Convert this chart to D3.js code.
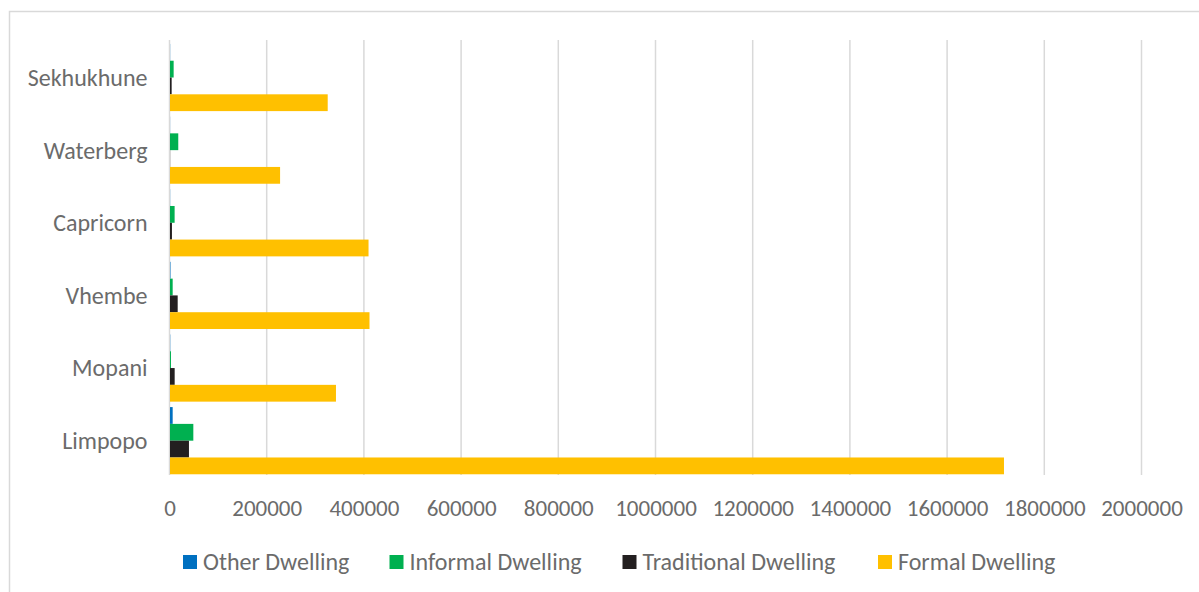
<!DOCTYPE html>
<html>
<head>
<meta charset="utf-8">
<script src="https://cdn.jsdelivr.net/npm/d3@7"></script>
<style>
  html, body { margin: 0; padding: 0; background: #fff; }
  svg { display: block; }
  text { font-family: Calibri, Carlito, "Liberation Sans", Arial, sans-serif; fill: #6b6b6b; }
</style>
</head>
<body>
<svg id="chart" width="1199" height="592"></svg>
<script>
// Districts, listed top to bottom as they appear on the chart
const categories = ["Sekhukhune", "Waterberg", "Capricorn", "Vhembe", "Mopani", "Limpopo"];

// Dwelling types, in legend order (also the top-to-bottom order inside each group)
const seriesNames = ["Other Dwelling", "Informal Dwelling", "Traditional Dwelling", "Formal Dwelling"];
const seriesColors = ["#0070C0", "#00B050", "#231F20", "#FFC000"];

// Household counts per district, one array per dwelling type (same order as categories)
const otherDwelling       = [300,   200,    300,    1000,   500,    5500];
const informalDwelling    = [7500,  17000,  9500,   5500,   2000,   48000];
const traditionalDwelling = [3400,  300,    4000,   15800,  9600,   39000];
const formalDwelling      = [324500, 226500, 408500, 410500, 341500, 1716000];

const xTicks = [0, 200000, 400000, 600000, 800000, 1000000, 1200000, 1400000, 1600000, 1800000, 2000000];

const seriesValues = [otherDwelling, informalDwelling, traditionalDwelling, formalDwelling];

const FONT = 'Calibri, Carlito, "Liberation Sans", Arial, sans-serif';
const svg = d3.select("#chart");

// Chart border
svg.append("path")
  .attr("d", "M9.5,600 L9.5,11.5 L1210,11.5")
  .attr("fill", "none")
  .attr("stroke", "#d9d9d9")
  .attr("stroke-width", 1.5);

const plot = { left: 169.5, right: 1141.5, top: 41.2, bottom: 477 };

const x = d3.scaleLinear().domain([0, 2000000]).range([plot.left, plot.right]);

const y0 = d3.scaleBand()
  .domain(categories)
  .range([plot.top, plot.bottom])
  .paddingInner(0.075)
  .paddingOuter(0.0375);

const y1 = d3.scaleBand()
  .domain(seriesNames)
  .range([0, y0.bandwidth()]);

// Vertical gridlines
svg.append("g")
  .selectAll("line")
  .data(xTicks)
  .join("line")
  .attr("x1", d => x(d)).attr("x2", d => x(d))
  .attr("y1", 40).attr("y2", 475)
  .attr("stroke", "#d9d9d9")
  .attr("stroke-width", 1.5);

// X tick labels
const xAxis = d3.axisBottom(x).tickValues(xTicks).tickFormat(d3.format("d")).tickSize(0).tickPadding(0);
const gx = svg.append("g").attr("transform", "translate(0,516)").call(xAxis);
gx.select(".domain").remove();
gx.selectAll("text")
  .attr("dy", 0)
  .attr("y", 0)
  .style("font-size", "23px")
  .style("fill", "#6b6b6b")
  .style("font-family", FONT);

// Category labels
const yAxis = d3.axisLeft(y0).tickSize(0).tickPadding(22);
const gy = svg.append("g").attr("transform", `translate(${plot.left},0)`).call(yAxis);
gy.select(".domain").remove();
gy.selectAll("text")
  .attr("dy", "0.35em")
  .style("font-size", "24px")
  .style("fill", "#6b6b6b")
  .style("font-family", FONT);

// Bars
const groups = svg.append("g")
  .selectAll("g")
  .data(categories.map((c, i) => ({ cat: c, i })))
  .join("g")
  .attr("transform", d => `translate(0,${y0(d.cat)})`);

groups.selectAll("rect")
  .data(d => seriesNames.map((s, k) => ({ s, k, v: seriesValues[k][d.i] })))
  .join("rect")
  .attr("x", x(0) + 0.5)
  .attr("y", d => y1(d.s))
  .attr("width", d => Math.max(0, x(d.v) - x(0)))
  .attr("height", y1.bandwidth())
  .attr("fill", d => seriesColors[d.k]);

// Legend
const legendX = [183, 389.5, 622.5, 878];
const legend = svg.append("g")
  .selectAll("g")
  .data(seriesNames)
  .join("g")
  .attr("transform", (d, i) => `translate(${legendX[i]},555)`);

legend.append("rect")
  .attr("width", 14).attr("height", 14)
  .attr("fill", (d, i) => seriesColors[i]);

legend.append("text")
  .attr("x", 20).attr("y", 7)
  .attr("dy", "0.35em")
  .style("font-size", "24px")
  .text(d => d);
</script>
</body>
</html>
